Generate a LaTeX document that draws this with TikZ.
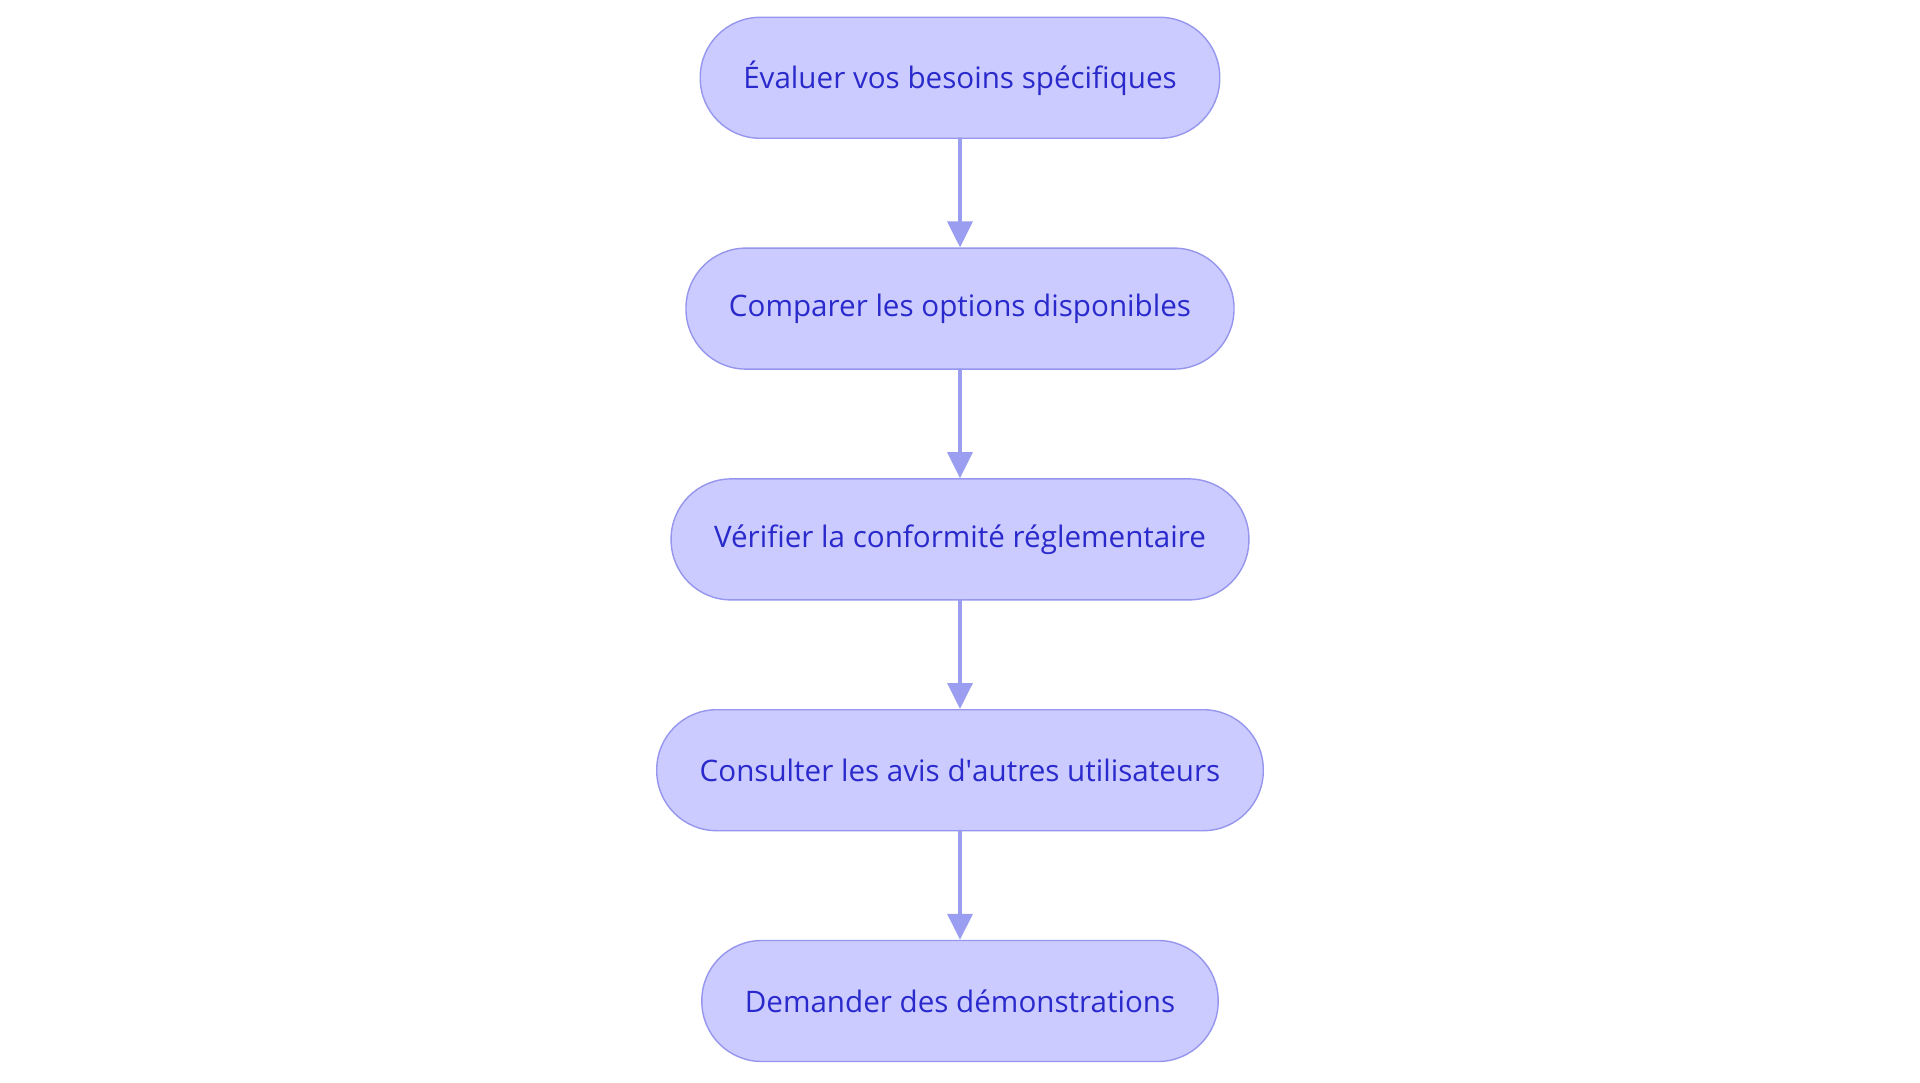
\documentclass[tikz,border=0pt]{standalone}
\usepackage{fontspec}
\setmainfont{Open Sans}
\usetikzlibrary{arrows.meta, positioning}

\definecolor{boxfill}{RGB}{203,203,255}
\definecolor{boxline}{RGB}{150,150,238}
\definecolor{boxtext}{RGB}{42,42,204}
\definecolor{arrowline}{RGB}{155,158,240}

\begin{document}
\begin{tikzpicture}[line cap=round,line join=round,x=1pt,y=1pt,
  >={Triangle[length=26pt,width=25pt]},
  node distance=108.4pt,
  etape/.style={draw=boxline, line width=1.4pt, fill=boxfill, text=boxtext,
    rounded corners=60pt, minimum height=121pt, inner xsep=43pt,
    font=\fontsize{29.6}{34}\selectfont},
  fleche/.style={->, draw=arrowline, fill=arrowline, line width=3.6pt}]
\useasboundingbox (0,0) rectangle (1920,-1083);

\node[etape] (E1) at (960,-77.8) {Évaluer vos besoins spécifiques};
\node[etape, below=of E1] (E2) {Comparer les options disponibles};
\node[etape, below=of E2] (E3) {Vérifier la conformité réglementaire};
\node[etape, below=of E3] (E4) {Consulter les avis d\textquotesingle autres utilisateurs};
\node[etape, below=of E4] (E5) {Demander des démonstrations};

\draw[fleche] (E1) -- (E2);
\draw[fleche] (E2) -- (E3);
\draw[fleche] (E3) -- (E4);
\draw[fleche] (E4) -- (E5);

\end{tikzpicture}
\end{document}
